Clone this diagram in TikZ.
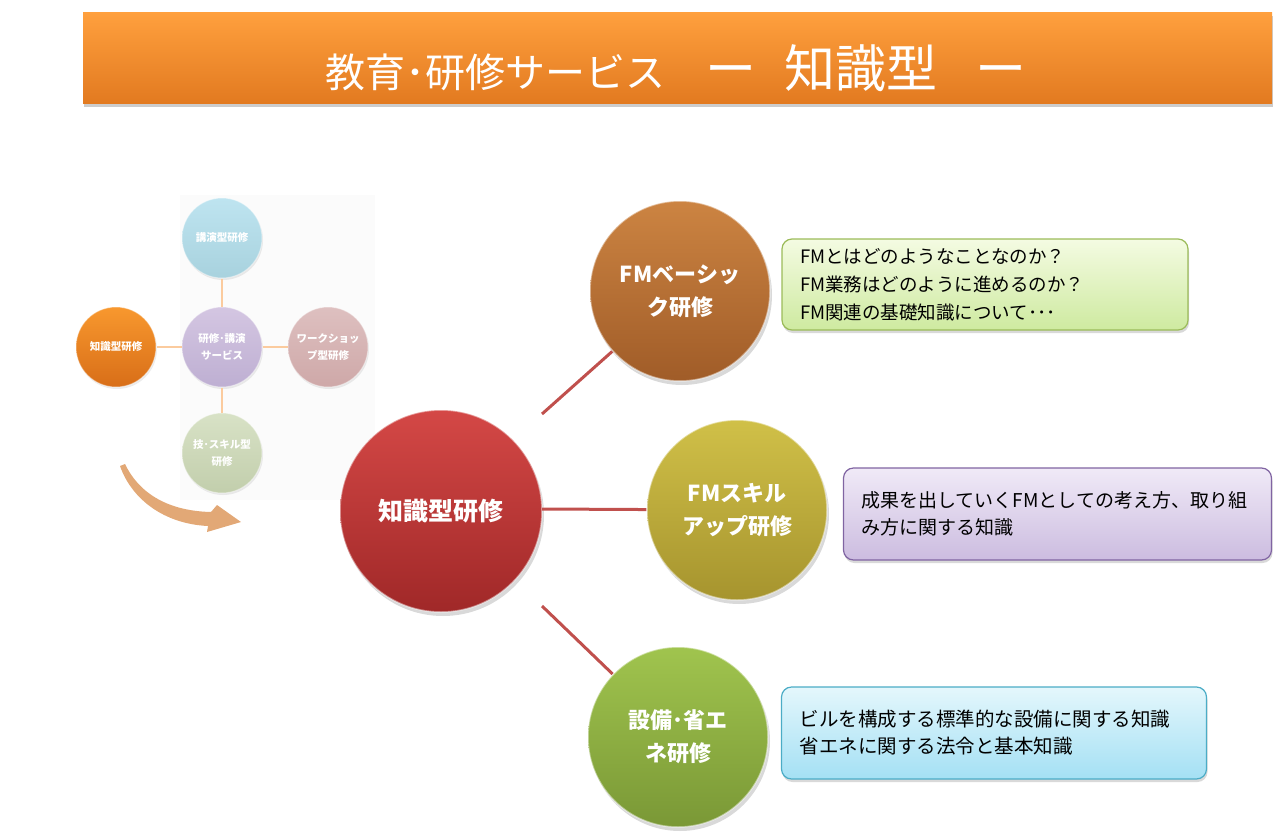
\documentclass[tikz,border=0pt]{standalone}
\usepackage{fontspec}
\setmainfont{Noto Sans CJK JP}
\usetikzlibrary{shadows}

\definecolor{linkred}{RGB}{192,80,77}
\definecolor{paleorange}{RGB}{251,203,158}
\definecolor{arrowtan}{RGB}{226,168,118}

\begin{document}
\begin{tikzpicture}[x=1pt,y=-1pt,
    ball/.style={circle, inner sep=0pt, align=center, text=white, minimum size=180pt,
        font=\bfseries\fontsize{22}{33}\selectfont, draw=white, draw opacity=0.45, line width=1.5pt,
        drop shadow={opacity=0.3, shadow xshift=2pt, shadow yshift=-4pt}},
    mini/.style={circle, inner sep=0pt, align=center, text=white, minimum size=80pt,
        font=\bfseries\fontsize{10.5}{17}\selectfont, draw=white, draw opacity=0.4, line width=1pt,
        drop shadow={opacity=0.15, shadow xshift=1pt, shadow yshift=-2pt}},
    note/.style={rectangle, rounded corners=10pt, align=left, inner xsep=18pt, inner ysep=0pt,
        font=\fontsize{19}{28}\selectfont, line width=1.2pt,
        drop shadow={opacity=0.3, shadow xshift=1pt, shadow yshift=-3pt}},
    link/.style={draw=linkred, line width=3pt},
    spoke/.style={draw=paleorange, line width=2pt}
  ]
  \useasboundingbox (0,0) rectangle (1280,833);

  % title bar
  \node[rectangle, minimum width=1189pt, minimum height=91pt, inner sep=0pt,
        top color={rgb,255:red,255;green,160;blue,62}, bottom color={rgb,255:red,226;green,122;blue,32},
        drop shadow={opacity=0.4, shadow xshift=1pt, shadow yshift=-4pt}] (title) at (677.5,57.5) {};
  \node[text=white, inner sep=0pt] (titletext) at (676,68)
        {{\fontsize{40}{40}\selectfont 教育･研修サービス　}{\fontsize{51}{51}\selectfont ー\hspace{0.55em}知識型\hspace{0.75em}ー}};

  % small overview map
  \fill[black!1.5] (180,195) rectangle (375,500);
  \path (222,347) node[mini, top color={rgb,255:red,212;green,198;blue,226}, bottom color={rgb,255:red,190;green,175;blue,210}] (hub) {研修･講演\\サービス}
        (222,238) node[mini, top color={rgb,255:red,190;green,228;blue,240}, bottom color={rgb,255:red,168;green,210;blue,222}] (lec) {講演型研修}
        (116,347) node[mini, top color={rgb,255:red,248;green,152;blue,46}, bottom color={rgb,255:red,216;green,110;blue,24}] (know) {知識型研修}
        (328,347) node[mini, top color={rgb,255:red,222;green,192;blue,192}, bottom color={rgb,255:red,206;green,168;blue,168}] (work) {ワークショッ\\プ型研修}
        (222,453) node[mini, top color={rgb,255:red,216;green,226;blue,198}, bottom color={rgb,255:red,194;green,206;blue,172}] (tech) {技･スキル型\\研修};
  \draw[spoke] (hub) -- (lec);
  \draw[spoke] (hub) -- (know);
  \draw[spoke] (hub) -- (work);
  \draw[spoke] (hub) -- (tech);

  % curved arrow
  \fill[arrowtan] (125,464) .. controls (140,495) and (170,511) .. (211,512) -- (217,505) -- (241,522)
        -- (207,532) -- (208,526) .. controls (165,524) and (132,500) .. (120,466) -- cycle;

  % main circles
  \node[ball, minimum size=202pt, font=\bfseries\fontsize{25}{30}\selectfont,
        top color={rgb,255:red,212;green,72;blue,70}, bottom color={rgb,255:red,160;green,40;blue,40}] (main) at (441,511) {知識型研修};
  \node[ball, top color={rgb,255:red,204;green,132;blue,66}, bottom color={rgb,255:red,160;green,92;blue,40}] (basic) at (680,291) {FMベーシッ\\ク研修};
  \node[ball, top color={rgb,255:red,208;green,192;blue,72}, bottom color={rgb,255:red,166;green,148;blue,46}] (skill) at (737,510) {FMスキル\\アップ研修};
  \node[ball, top color={rgb,255:red,160;green,196;blue,78}, bottom color={rgb,255:red,122;green,152;blue,54}] (equip) at (678,737) {設備･省エ\\ネ研修};

  \coordinate (k1) at (542,414);
  \coordinate (k2) at (542,509);
  \coordinate (k3) at (542,606);
  \draw[link] (k1) -- (basic);
  \draw[link] (k2) -- (skill);
  \draw[link] (k3) -- (equip);

  % notes
  \node[note, text width=370pt, minimum height=91pt, font=\fontsize{18.5}{28}\selectfont, draw={rgb,255:red,155;green,187;blue,89},
        top color={rgb,255:red,244;green,251;blue,226}, bottom color={rgb,255:red,206;green,234;blue,160}] (nbasic) at (985,284.5)
        {FMとはどのようなことなのか？\\FM業務はどのように進めるのか？\\FM関連の基礎知識について･･･};
  \node[note, text width=392pt, minimum height=92pt, font=\fontsize{19}{27}\selectfont, draw={rgb,255:red,128;green,100;blue,162},
        top color={rgb,255:red,240;green,234;blue,247}, bottom color={rgb,255:red,204;green,188;blue,224}] (nskill) at (1057.5,514)
        {成果を出していくFMとしての考え方、取り組\\み方に関する知識};
  \node[note, text width=389pt, minimum height=92pt, font=\fontsize{19.5}{27}\selectfont, draw={rgb,255:red,75;green,172;blue,198},
        top color={rgb,255:red,228;green,247;blue,252}, bottom color={rgb,255:red,164;green,224;blue,244}] (nequip) at (994,733)
        {ビルを構成する標準的な設備に関する知識\\省エネに関する法令と基本知識};
\end{tikzpicture}
\end{document}
